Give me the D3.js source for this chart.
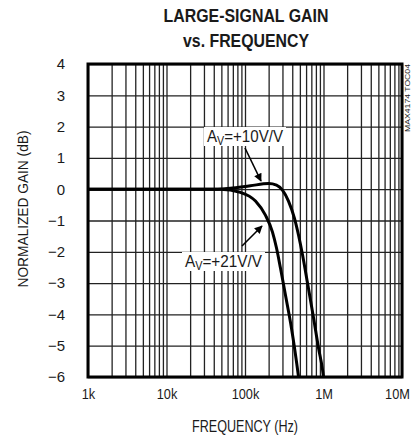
<!DOCTYPE html>
<html>
<head>
<meta charset="utf-8">
<script src="https://cdn.jsdelivr.net/npm/d3@7"></script>
<style>
  body { margin: 0; background: #fff; }
  text { font-family: "Liberation Sans Narrow", "Liberation Sans", Arial, sans-serif; fill: #1a1a1a; }
</style>
</head>
<body>
<script>
var width = 416,
    height = 439,
    margin = { top: 64, right: 14, bottom: 62, left: 88 };

// tick labels
var freqLabels = ['1k', '10k', '100k', '1M', '10M'];
var freqDecades = [1e3, 1e4, 1e5, 1e6, 1e7];
var gainTicks = [4, 3, 2, 1, 0, -1, -2, -3, -4, -5, -6];

// Av = +10V/V curve (Hz, dB)
var freq10 = [1e3, 5e3, 2e4, 4.5e4, 6.5e4, 1.17e5, 2.0e5, 2.52e5, 3.0e5, 3.58e5, 4.27e5, 4.81e5, 5.41e5, 6.26e5, 7.48e5, 8.65e5, 9.74e5, 1.0e6, 1.06e6];
var gain10 = [0, 0, 0, 0, 0.03, 0.11, 0.18, 0.13, -0.03, -0.38, -0.93, -1.47, -2.1, -3.0, -4.12, -5.08, -5.78, -6.0, -6.4];

// Av = +21V/V curve (Hz, dB)
var freq21 = [1e3, 5e3, 2e4, 4.85e4, 8.7e4, 1.36e5, 1.82e5, 2.24e5, 2.52e5, 2.83e5, 3.28e5, 3.91e5, 4.81e5, 5.1e5];
var gain21 = [0, 0, 0, 0, -0.1, -0.38, -0.83, -1.37, -1.88, -2.52, -3.39, -4.44, -6.0, -6.5];

var svg = d3.select('body').append('svg')
    .attr('width', width)
    .attr('height', height);

var w = width - margin.left - margin.right,
    h = height - margin.top - margin.bottom;

var x = d3.scaleLog().domain([1e3, 1e7]).range([0, w]),
    y = d3.scaleLinear().domain([-6, 4]).range([h, 0]);

var g = svg.append('g')
    .attr('transform', 'translate(' + margin.left + ',' + margin.top + ')');

// squeeze a text horizontally, the original lettering is very condensed
function squeeze(sel, k) {
  sel.each(function() {
    var len = this.getComputedTextLength();
    d3.select(this).attr('textLength', len * k).attr('lengthAdjust', 'spacingAndGlyphs');
  });
}

// all the minor log lines 1..9 per decade
var minorFreqs = [];
freqDecades.slice(0, 4).forEach(function(d) {
  for (var k = 1; k < 10; k++) minorFreqs.push(d * k);
});
minorFreqs.push(1e7);

g.append('g')
  .attr('class', 'grid-x')
  .attr('transform', 'translate(0,' + h + ')')
  .call(d3.axisBottom(x).tickValues(minorFreqs).tickSize(-h).tickFormat(''))
  .call(function(s) { s.select('.domain').remove(); })
  .selectAll('line').attr('stroke', '#222').attr('stroke-width', 1.3);

g.append('g')
  .attr('class', 'grid-y')
  .call(d3.axisLeft(y).tickValues(gainTicks).tickSize(-w).tickFormat(''))
  .call(function(s) { s.select('.domain').remove(); })
  .selectAll('line').attr('stroke', '#222').attr('stroke-width', 1.3);

// tick labels
g.append('g')
  .attr('transform', 'translate(0,' + h + ')')
  .call(d3.axisBottom(x).tickValues(freqDecades).tickSize(0).tickPadding(22)
    .tickFormat(function(d, i) { return freqLabels[i]; }))
  .call(function(s) { s.select('.domain').remove(); })
  .selectAll('text')
    .attr('font-size', 15)
    .attr('font-family', null)
    .attr('dy', 0)
    .attr('x', function(d) { return d === 1e7 ? -5 : 0; })
    .call(squeeze, 0.85);

g.append('g')
  .call(d3.axisLeft(y).tickValues(gainTicks).tickSize(0).tickPadding(23))
  .call(function(s) { s.select('.domain').remove(); })
  .selectAll('text')
    .attr('font-size', 15)
    .attr('font-family', null);

// curves
svg.append('clipPath').attr('id', 'plotclip')
  .append('rect').attr('width', w).attr('height', h);

var line = d3.line()
    .x(function(d) { return x(d[0]); })
    .y(function(d) { return y(d[1]); })
    .curve(d3.curveMonotoneX);

[d3.zip(freq10, gain10), d3.zip(freq21, gain21)].forEach(function(pts) {
  g.append('path')
    .attr('clip-path', 'url(#plotclip)')
    .attr('d', line(pts))
    .attr('fill', 'none')
    .attr('stroke', '#000')
    .attr('stroke-width', 3);
});

// frame
g.append('rect')
  .attr('width', w).attr('height', h)
  .attr('fill', 'none').attr('stroke', '#000').attr('stroke-width', 3);

// arrow heads
svg.append('defs').append('marker')
  .attr('id', 'arrow')
  .attr('viewBox', '0 0 10 10')
  .attr('refX', 9).attr('refY', 5)
  .attr('markerWidth', 11).attr('markerHeight', 8)
  .attr('markerUnits', 'userSpaceOnUse')
  .attr('orient', 'auto')
  .append('path').attr('d', 'M0,0L10,5L0,10z').attr('fill', '#000');

// curve labels with white boxes behind them
function gainLabel(tx, ty, gain, len) {
  svg.append('rect')
    .attr('x', tx - 3).attr('y', ty - 15)
    .attr('width', len + 6).attr('height', 19)
    .attr('fill', '#fff');
  var t = svg.append('text')
    .attr('x', tx).attr('y', ty)
    .attr('font-size', 17)
    .attr('textLength', len)
    .attr('lengthAdjust', 'spacingAndGlyphs');
  t.append('tspan').text('A');
  t.append('tspan').attr('font-size', 12).attr('dy', 3).text('V');
  t.append('tspan').attr('dy', -3).text('=+' + gain + 'V/V');
}

gainLabel(207, 142, 10, 76);
gainLabel(185, 267, 21, 77);

svg.append('line')
  .attr('x1', 245).attr('y1', 148).attr('x2', 261).attr('y2', 181)
  .attr('stroke', '#000').attr('stroke-width', 1.6)
  .attr('marker-end', 'url(#arrow)');

svg.append('line')
  .attr('x1', 242).attr('y1', 246).attr('x2', 262).attr('y2', 226)
  .attr('stroke', '#000').attr('stroke-width', 1.6)
  .attr('marker-end', 'url(#arrow)');

// titles
svg.append('text')
  .attr('x', 246).attr('y', 22)
  .attr('text-anchor', 'middle')
  .attr('font-size', 18).attr('font-weight', 'bold')
  .attr('textLength', 165).attr('lengthAdjust', 'spacingAndGlyphs')
  .text('LARGE-SIGNAL GAIN');

svg.append('text')
  .attr('x', 246).attr('y', 47)
  .attr('text-anchor', 'middle')
  .attr('font-size', 18).attr('font-weight', 'bold')
  .attr('textLength', 126).attr('lengthAdjust', 'spacingAndGlyphs')
  .text('vs. FREQUENCY');

svg.append('text')
  .attr('x', 245).attr('y', 432)
  .attr('text-anchor', 'middle')
  .attr('font-size', 16)
  .attr('textLength', 106).attr('lengthAdjust', 'spacingAndGlyphs')
  .text('FREQUENCY (Hz)');

svg.append('text')
  .attr('transform', 'translate(28,209) rotate(-90)')
  .attr('text-anchor', 'middle')
  .attr('font-size', 15)
  .attr('textLength', 157).attr('lengthAdjust', 'spacingAndGlyphs')
  .text('NORMALIZED GAIN (dB)');

svg.append('text')
  .attr('transform', 'translate(410,98) rotate(-90)')
  .attr('text-anchor', 'middle')
  .attr('font-size', 8)
  .attr('textLength', 68).attr('lengthAdjust', 'spacingAndGlyphs')
  .text('MAX4174 TOC04');
</script>
</body>
</html>
